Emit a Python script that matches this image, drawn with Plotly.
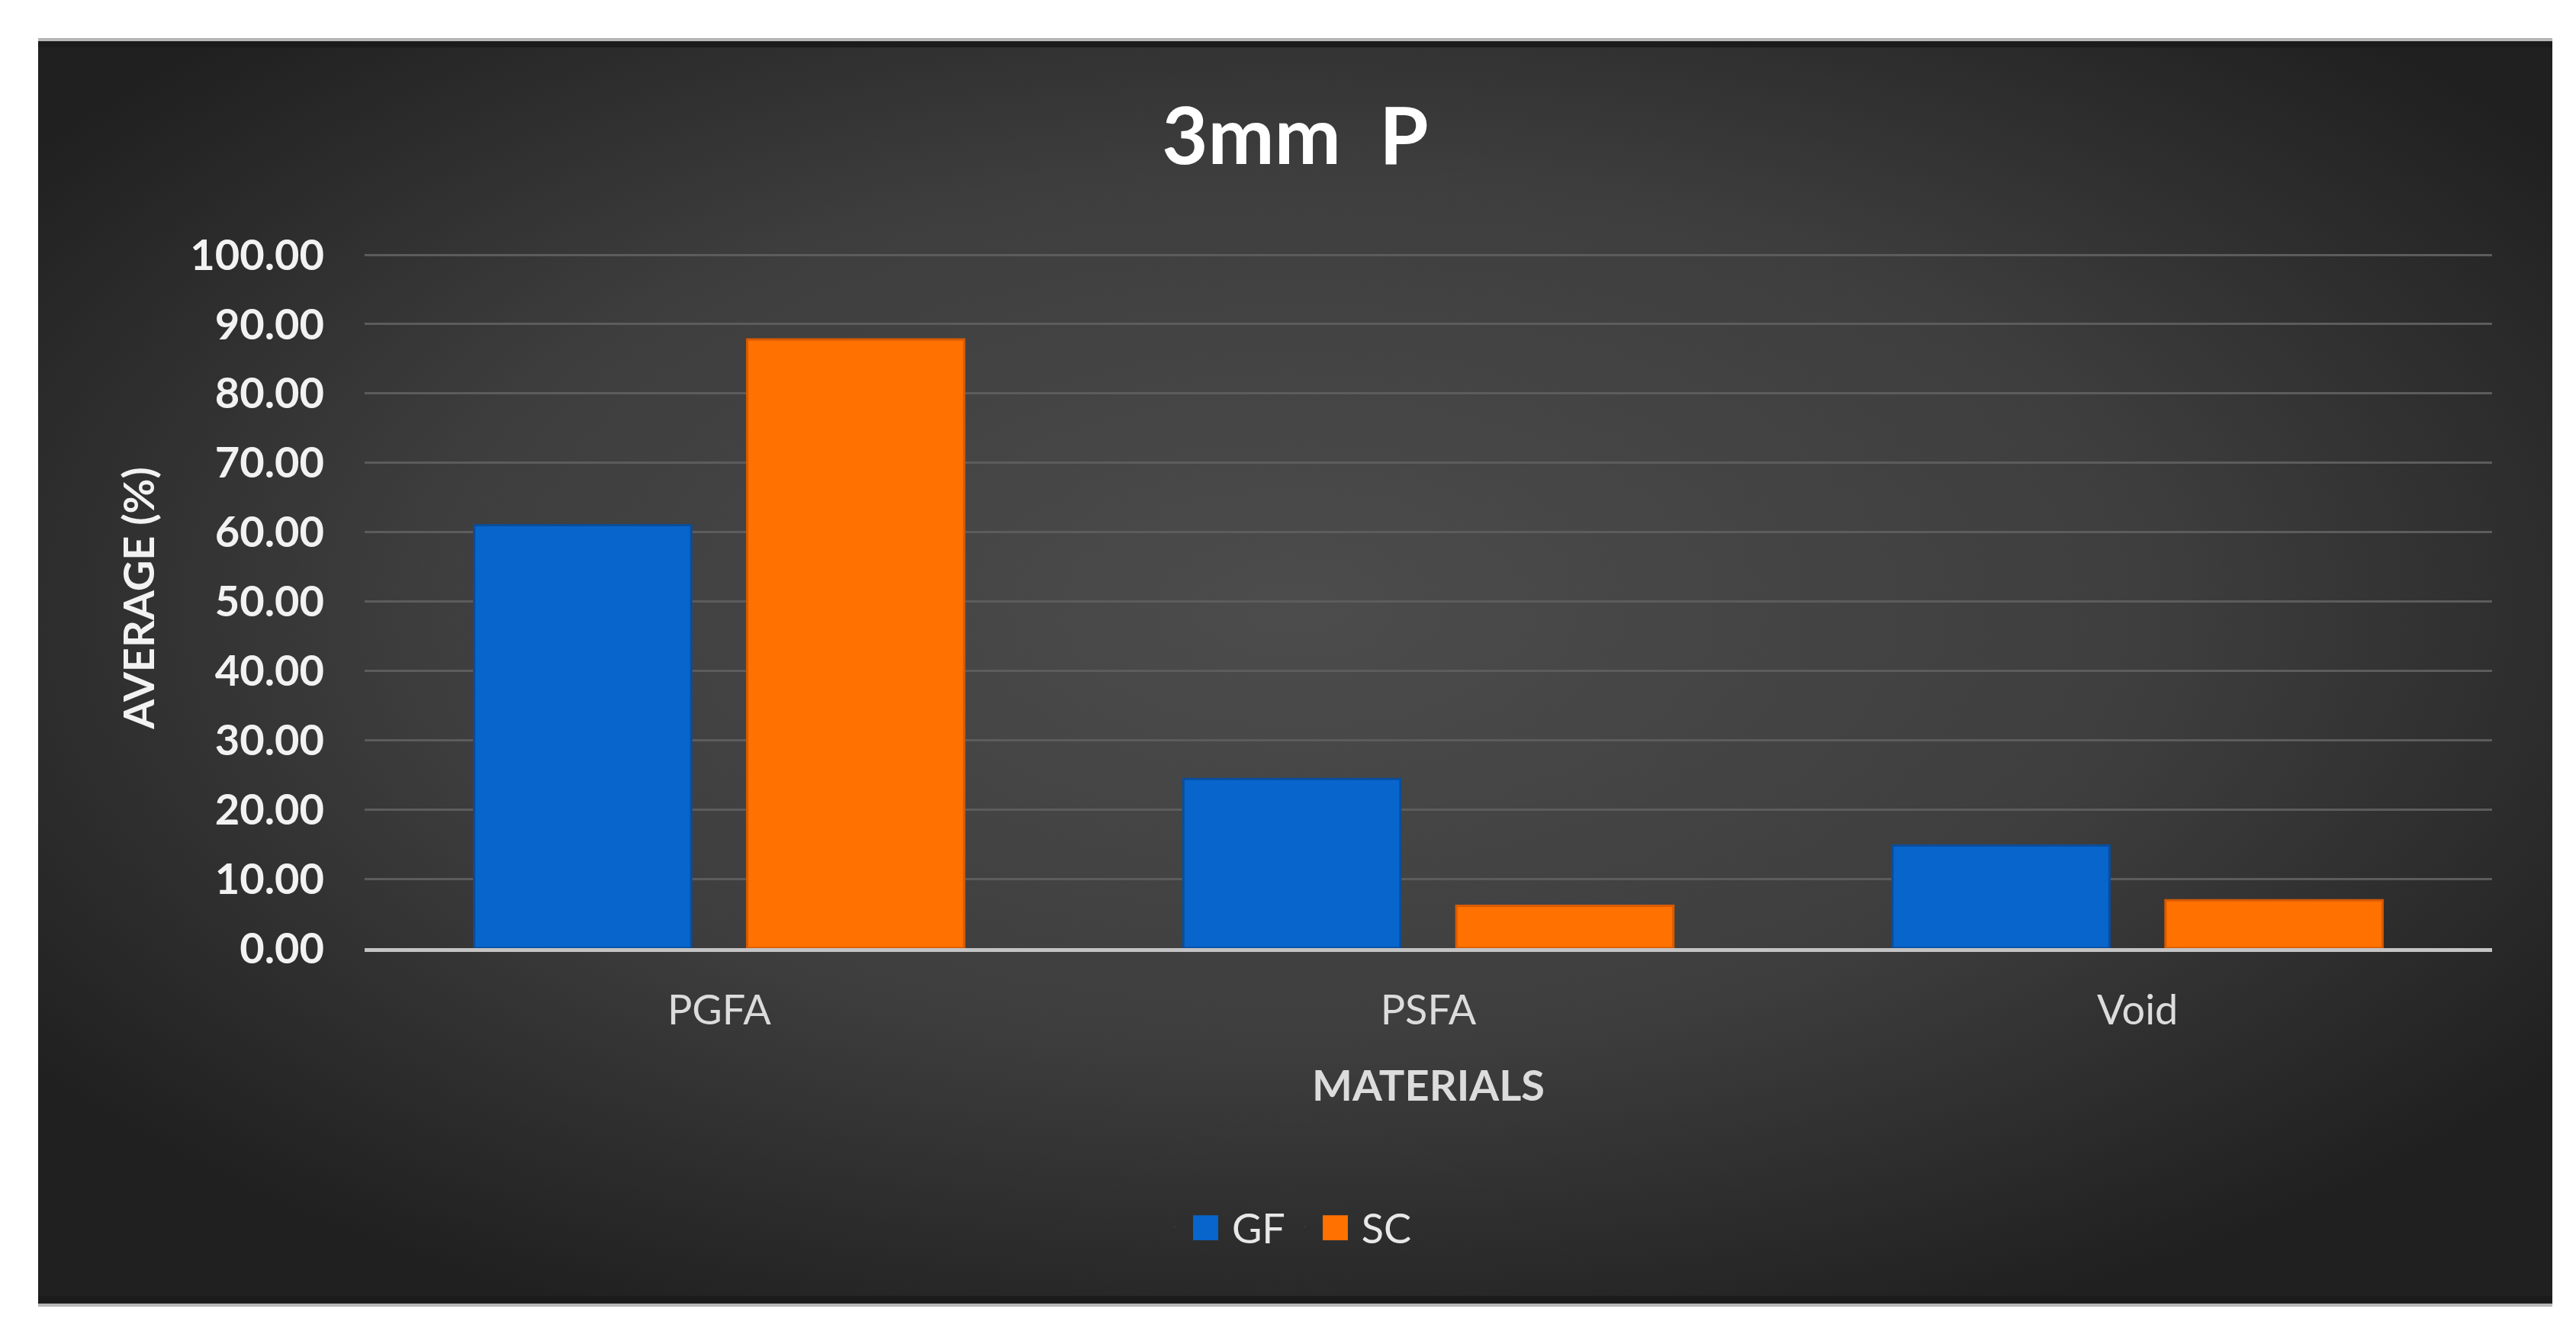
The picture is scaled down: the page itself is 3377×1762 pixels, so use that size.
import base64
import plotly.graph_objects as go

# data
materials = ["PGFA", "PSFA", "Void"]
gf = [61.0, 24.4, 14.8]
sc = [87.8, 6.1, 6.9]
y_ticks = list(range(0, 101, 10))

W, H = 3377, 1762
OFF = 8  # page body margin, shift everything back by it
y_top = 101  # a little headroom so the 100 gridline is drawn
# target pixel positions in the screenshot
plot_left, plot_right, y100_px, y0_px = 478, 3267, 334, 1243
unit = (y0_px - y100_px) / 100.0
ml = plot_left - OFF
mr = W - (plot_right - OFF)
mb = H - (y0_px - OFF)
mt = (y0_px - OFF) - y_top * unit
plot_w = W - ml - mr
plot_h = H - mt - mb

# dark chart panel (screenshot pixels)
px0, py0, px1, py1 = 50, 50, 3346, 1713
pw, ph = px1 - px0, py1 - py0
svg = (
    f'<svg xmlns="http://www.w3.org/2000/svg" width="{pw}" height="{ph}" '
    f'viewBox="0 0 {pw} {ph}" preserveAspectRatio="none">'
    '<defs><radialGradient id="g" cx="50%" cy="45%" r="62%">'
    '<stop offset="0" stop-color="#4c4c4c"/>'
    '<stop offset="0.55" stop-color="#3e3e3e"/>'
    '<stop offset="1" stop-color="#202020"/>'
    '</radialGradient></defs>'
    f'<rect x="0" y="0" width="{pw}" height="{ph}" fill="url(#g)"/>'
    f'<rect x="0" y="0" width="{pw}" height="4" fill="#b8b8b8"/>'
    f'<rect x="0" y="4" width="{pw}" height="8" fill="#1b1b1b"/>'
    f'<rect x="0" y="{ph-14}" width="{pw}" height="10" fill="#1b1b1b"/>'
    f'<rect x="0" y="{ph-4}" width="{pw}" height="4" fill="#b8b8b8"/>'
    '</svg>'
)
bg_src = "data:image/svg+xml;base64," + base64.b64encode(svg.encode()).decode()

blue, orange = "#0865cc", "#ff7100"

fig = go.Figure()
fig.add_trace(go.Bar(x=materials, y=gf, name="GF", showlegend=False,
                     marker=dict(color=blue, line=dict(color="#0a4d9c", width=3))))
fig.add_trace(go.Bar(x=materials, y=sc, name="SC", showlegend=False,
                     marker=dict(color=orange, line=dict(color="#d95a00", width=3))))
# legend entries with big square swatches
for nm, col in [("GF", blue), ("SC", orange)]:
    fig.add_trace(go.Scatter(x=[None], y=[None], mode="markers",
                             marker=dict(size=1, opacity=0),
                             name=f'<span style="color:{col};font-size:68px">■</span> {nm}'))

cx = (px0 + px1) / 2
fig.update_layout(
    width=W, height=H, autosize=False,
    margin=dict(l=ml, r=mr, t=mt, b=mb, pad=0),
    paper_bgcolor="white",
    plot_bgcolor="rgba(0,0,0,0)",
    barmode="group",
    bargap=0.23,
    bargroupgap=0.205,
    font=dict(family="Lato, Open Sans, sans-serif", color="#e8e8e8"),
    title=dict(text="<b>3mm  P</b>", x=(cx - OFF) / W, xref="container",
               y=1 - (179 - OFF) / H, yref="container", xanchor="center", yanchor="middle",
               font=dict(size=104, color="white", family="Lato, sans-serif")),
    legend=dict(orientation="h", xref="container", yref="container",
                x=(cx - OFF - 10) / W, y=1 - (1609 - OFF) / H, xanchor="center", yanchor="middle",
                font=dict(size=54, color="#e8e8e8"), itemwidth=30,
                bgcolor="rgba(0,0,0,0)"),
    images=[dict(source=bg_src, xref="paper", yref="paper",
                 x=(px0 - OFF - ml) / plot_w, y=(H - mb - (py0 - OFF)) / plot_h,
                 sizex=pw / plot_w, sizey=ph / plot_h,
                 sizing="stretch", xanchor="left", yanchor="top", layer="below")],
)

fig.update_yaxes(
    range=[0, y_top], tickvals=y_ticks, tickformat=".2f",
    tickfont=dict(size=56, color="#f2f2f2", family="Lato, sans-serif", weight="bold"),
    ticklabelstandoff=52,
    showgrid=True, gridcolor="#5c5c5c", gridwidth=2.5,
    zeroline=False, showline=False,
    title=dict(text="<b>AVERAGE (%)</b>", font=dict(size=56, color="#f2f2f2"), standoff=28),
)
fig.update_xaxes(
    tickfont=dict(size=54, color="#dcdcdc"),
    ticklabelstandoff=30,
    showline=True, linecolor="#c4c4c4", linewidth=5,
    showgrid=False,
    title=dict(text="<b>MATERIALS</b>", font=dict(size=56, color="#dcdcdc"), standoff=52),
)

fig.write_html("out.html")
